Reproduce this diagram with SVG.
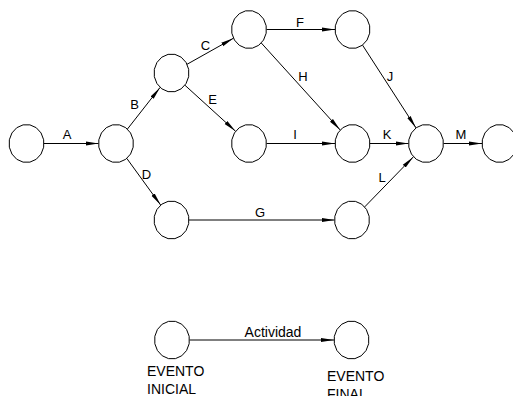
<svg xmlns="http://www.w3.org/2000/svg" xmlns:xlink="http://www.w3.org/1999/xlink" width="513" height="396" viewBox="0 0 513 396">
<style>
.nd{fill:#fff;stroke:#000;stroke-width:1}
.ln{stroke:#000;stroke-width:1;fill:none;marker-end:url(#ah)}
.lb{font-family:"Liberation Sans",Arial,sans-serif;font-size:13px;fill:#000;text-anchor:middle}
.lg{font-family:"Liberation Sans",Arial,sans-serif;font-size:14px;fill:#000}
</style>
<defs>
<marker id="ah" markerUnits="userSpaceOnUse" markerWidth="14" markerHeight="6" refX="13" refY="3" orient="auto" viewBox="0 0 14 6">
<path d="M13,3 L0,1 L0,5 Z" fill="#000"/>
</marker>
<polygon id="node" class="nd" points="17.16,3.71 14.55,10.56 9.72,15.8 3.41,18.64 -3.41,18.64 -9.72,15.8 -14.55,10.56 -17.16,3.71 -17.16,-3.71 -14.55,-10.56 -9.72,-15.8 -3.41,-18.64 3.41,-18.64 9.72,-15.8 14.55,-10.56 17.16,-3.71"/>
</defs>
<rect width="513" height="396" fill="#fff"/>
<g id="connectors">
<line class="ln" x1="44" y1="143.5" x2="98.5" y2="143.5"/>
<line class="ln" x1="127.4" y1="129.1" x2="160.1" y2="87.4"/>
<line class="ln" x1="187" y1="64.3" x2="233.5" y2="38.2"/>
<line class="ln" x1="184.9" y1="85.2" x2="235.6" y2="131.3"/>
<line class="ln" x1="126.8" y1="158.4" x2="160.7" y2="205.1"/>
<line class="ln" x1="266.5" y1="29.5" x2="335" y2="29.5"/>
<line class="ln" x1="261.3" y1="43" x2="340.2" y2="130"/>
<line class="ln" x1="362.5" y1="45.1" x2="416" y2="127.9"/>
<line class="ln" x1="266.5" y1="143.5" x2="335" y2="143.5"/>
<line class="ln" x1="370" y1="143.5" x2="408.5" y2="143.5"/>
<line class="ln" x1="443.5" y1="143.5" x2="482" y2="143.5"/>
<line class="ln" x1="189" y1="220" x2="334.5" y2="220"/>
<line class="ln" x1="364.7" y1="206.9" x2="413.3" y2="156.9"/>
<line class="ln" x1="189.5" y1="340" x2="334" y2="340"/>
<text class="lb" x="67" y="139">A</text>
<text class="lb" x="134.5" y="109">B</text>
<text class="lb" x="205.5" y="50">C</text>
<text class="lb" x="146.5" y="179">D</text>
<text class="lb" x="212.5" y="104">E</text>
<text class="lb" x="300" y="27">F</text>
<text class="lb" x="260" y="217">G</text>
<text class="lb" x="303" y="81">H</text>
<text class="lb" x="295" y="139">I</text>
<text class="lb" x="390" y="81">J</text>
<text class="lb" x="387" y="139">K</text>
<text class="lb" x="382" y="182">L</text>
<text class="lb" x="461" y="139">M</text>
<text class="lg" x="273" y="337" text-anchor="middle">Actividad</text>
</g>
<g id="n1"><use xlink:href="#node" x="26.5" y="143.5"/></g>
<g id="n2"><use xlink:href="#node" x="116" y="143.5"/></g>
<g id="n3"><use xlink:href="#node" x="171.5" y="73"/></g>
<g id="n4"><use xlink:href="#node" x="249" y="29.5"/></g>
<g id="n5"><use xlink:href="#node" x="352.5" y="29.5"/></g>
<g id="n6"><use xlink:href="#node" x="249" y="143.5"/></g>
<g id="n7"><use xlink:href="#node" x="352.5" y="143.5"/></g>
<g id="n8"><use xlink:href="#node" x="426" y="143.5"/></g>
<g id="n9"><use xlink:href="#node" x="499.5" y="143.5"/></g>
<g id="n10"><use xlink:href="#node" x="171.5" y="220"/></g>
<g id="n11"><use xlink:href="#node" x="352" y="220"/></g>
<g id="legend-start"><use xlink:href="#node" x="172" y="340"/>
<text class="lg" x="147" y="376">EVENTO</text>
<text class="lg" x="147" y="394">INICIAL</text></g>
<g id="legend-end"><use xlink:href="#node" x="351.5" y="340"/>
<text class="lg" x="327" y="381">EVENTO</text>
<text class="lg" x="327" y="399">FINAL</text></g>
</svg>
